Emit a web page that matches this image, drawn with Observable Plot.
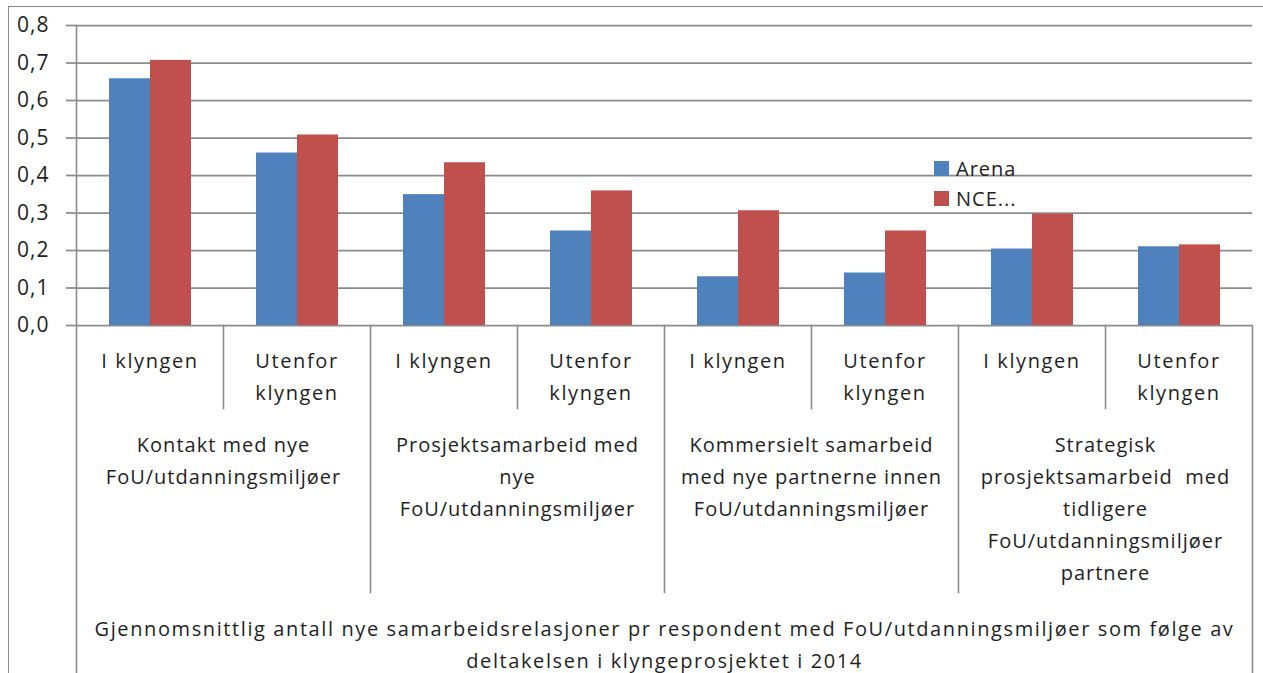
<!DOCTYPE html>
<html><head><meta charset="utf-8">
<script src="https://cdn.jsdelivr.net/npm/d3@7"></script>
<script src="https://cdn.jsdelivr.net/npm/@observablehq/plot@0.6"></script>
<style>
body{margin:0;background:#fff;font-family:"Open Sans",sans-serif;}
#wrap{position:relative;width:1263px;height:673px;overflow:hidden;background:#fff;}
#border{position:absolute;left:8px;top:6px;width:1400px;height:800px;border-top:1.5px solid #8a8a8a;border-left:1.5px solid #8a8a8a;}
#chart{position:absolute;left:0;top:0;}
#chart svg text{letter-spacing:1px;}
#chart svg .wide text{letter-spacing:1.6px;}
#legend{position:absolute;left:934px;top:153px;letter-spacing:1px;}
#legend .lg-swatches{margin:0;min-height:0;}
#legend .lg-swatch{height:30px;margin:0;padding:0;align-items:center;}
#legend .lg-swatch svg{margin-right:7px;}
</style></head><body>
<div id="wrap"><div id="border"></div><div id="chart"></div><div id="legend"></div></div>
<script>
const series = ["Arena", "NCE..."];
const colors = ["#4F81BD", "#C0504D"];
const subs = ["I klyngen", "Utenfor\nklyngen"];
const groups = [
  "Kontakt med nye\nFoU/utdanningsmiljøer",
  "Prosjektsamarbeid med\nnye\nFoU/utdanningsmiljøer",
  "Kommersielt samarbeid\nmed nye partnerne innen\nFoU/utdanningsmiljøer",
  "Strategisk\nprosjektsamarbeid  med\ntidligere\nFoU/utdanningsmiljøer\npartnere"
];
const bottomTitle = "Gjennomsnittlig antall nye samarbeidsrelasjoner pr respondent med FoU/utdanningsmiljøer som følge av\ndeltakelsen i klyngeprosjektet i 2014";
const arena = [0.658, 0.460, 0.349, 0.252, 0.130, 0.140, 0.204, 0.210];
const nce   = [0.707, 0.508, 0.434, 0.359, 0.306, 0.252, 0.297, 0.215];
const yTicks = [0, 0.1, 0.2, 0.3, 0.4, 0.5, 0.6, 0.7, 0.8];

const FONT = '"Open Sans", sans-serif';
const GRID = "#8c8c8c";
const TEXT = "#1f1f1f";
const keys = arena.map((_, i) => String(i));
const data = [];
keys.forEach((k, i) => {
  data.push({k, s: series[0], v: arena[i]});
  data.push({k, s: series[1], v: nce[i]});
});
const fmt = d => d.toFixed(1).replace(".", ",");

const lineStyle = {stroke: GRID, strokeWidth: 1.6};
const textStyle = {lineAnchor: "top", lineHeight: 1.6, fontSize: 20, fill: TEXT, textAnchor: "middle"};
const marks = [
  Plot.gridY(yTicks, {stroke: GRID, strokeOpacity: 1, strokeWidth: 1.75}),
  Plot.axisY(yTicks, {tickSize: 10, tickPadding: 17, tickFormat: fmt, stroke: GRID, strokeWidth: 1.75, fontSize: 21, fill: TEXT, label: null}),
  Plot.barY(data, {fx: "k", x: "s", y: "v", fill: "s"}),
  // left axis line running to the bottom
  Plot.frame({fx: () => keys[0], anchor: "left", insetBottom: -348, ...lineStyle}),
  // right edge of category axis
  Plot.frame({fx: () => keys[7], anchor: "right", insetTop: 300, insetBottom: -348, ...lineStyle}),
  // sub-category separators
  ...[1, 3, 5, 7].map(i => Plot.frame({fx: () => keys[i], anchor: "left", insetTop: 300, insetBottom: -83, ...lineStyle})),
  // group separators
  ...[2, 4, 6].map(i => Plot.frame({fx: () => keys[i], anchor: "left", insetTop: 300, insetBottom: -267, ...lineStyle})),
  // sub-category labels
  Plot.text(keys, {fx: d => d, text: (d, i) => subs[i % 2], frameAnchor: "bottom", dy: 20, className: "wide", ...textStyle}),
  // group labels (centred on the boundary between the pair)
  Plot.text(groups, {fx: (d, i) => keys[2 * i + 1], text: d => d, frameAnchor: "bottom-left", dy: 104, ...textStyle}),
  // bottom title
  Plot.text([bottomTitle], {fx: () => keys[4], text: d => d, frameAnchor: "bottom-left", dy: 288, className: "wide", ...textStyle})
];

const chart = Plot.plot({
  width: 1263, height: 673,
  marginLeft: 72, marginRight: 8, marginTop: 25, marginBottom: 348,
  style: {fontFamily: FONT, fontSize: "20px", color: TEXT, background: "transparent", overflow: "visible"},
  fx: {domain: keys, padding: 0, axis: null},
  x: {domain: series, paddingInner: 0, paddingOuter: 0.762, axis: null},
  y: {domain: [0, 0.8], axis: null},
  color: {domain: series, range: colors},
  marks
});
document.getElementById("chart").append(chart);

const legend = Plot.legend({
  color: {domain: series, range: colors},
  legend: "swatches", columns: 1, swatchSize: 15, className: "lg",
  style: {fontFamily: FONT, fontSize: "20px", color: TEXT}
});
document.getElementById("legend").append(legend);
</script>
</body></html>
